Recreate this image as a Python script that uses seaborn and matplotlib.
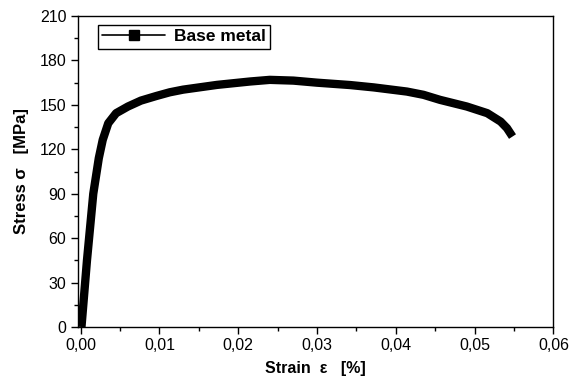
import matplotlib
matplotlib.use("Agg")
import matplotlib.pyplot as plt
from matplotlib.lines import Line2D
from matplotlib.ticker import MultipleLocator, FuncFormatter
import seaborn as sns
import pandas as pd

strain = [0.0001, 0.0008, 0.0016, 0.0023, 0.0028, 0.0035, 0.0045, 0.006,
          0.00765, 0.0096, 0.0113, 0.013, 0.0173, 0.0215, 0.024, 0.027, 0.030,
          0.0342, 0.0372, 0.0414, 0.0435, 0.0456, 0.049, 0.0516, 0.0533,
          0.0541, 0.0548]
stress = [0, 45, 90, 114, 126.4, 137.6, 144.4, 148.9, 152.9, 156, 158.5, 160.3,
          163.5, 165.8, 166.9, 166.4, 165, 163.4, 161.8, 159, 156.8, 153.4,
          148.9, 144.4, 138.7, 134.3, 128.6]
series_name = "Base metal"
x_ticks = [0, 0.01, 0.02, 0.03, 0.04, 0.05, 0.06]
y_ticks = [0, 30, 60, 90, 120, 150, 180, 210]

df = pd.DataFrame({"strain": strain, "stress": stress})

sns.set_style("ticks")
plt.rcParams["font.family"] = ["Liberation Sans", "DejaVu Sans"]
plt.rcParams["text.color"] = "black"
plt.rcParams["axes.labelcolor"] = "black"
plt.rcParams["xtick.color"] = "black"
plt.rcParams["ytick.color"] = "black"

fig = plt.figure(figsize=(5.7, 3.82), dpi=100)
ax = fig.add_axes([0.136, 0.144, 0.835, 0.814])

sns.lineplot(data=df, x="strain", y="stress", ax=ax, color="black",
             linewidth=6, solid_joinstyle="round", solid_capstyle="butt",
             legend=False, sort=False)

ax.set_xlim(-0.0004, 0.06)
ax.set_ylim(0, 210)
ax.set_xticks(x_ticks)
ax.set_yticks(y_ticks)
ax.xaxis.set_minor_locator(MultipleLocator(0.005))
ax.yaxis.set_minor_locator(MultipleLocator(15))
ax.xaxis.set_major_formatter(FuncFormatter(lambda v, p: f"{v:.2f}".replace(".", ",")))
ax.tick_params(which="major", direction="out", length=5, width=1, labelsize=11.5,
               colors="black", labelcolor="black", pad=3)
ax.tick_params(which="minor", direction="out", length=3, width=1, colors="black")
for s in ax.spines.values():
    s.set_visible(True)
    s.set_linewidth(1)
    s.set_color("black")

ax.set_xlabel("Strain  \u03b5   [%]", fontsize=11.5, fontweight="bold", labelpad=6,
              color="black")
ax.set_ylabel("Stress \u03c3   [MPa]", fontsize=12, fontweight="bold", labelpad=8,
              color="black")

handle = Line2D([], [], color="black", linewidth=1.2, marker="s", markersize=6.5)
leg = ax.legend([handle], [series_name], loc="upper left",
                bbox_to_anchor=(0.043, 0.972), frameon=True, fancybox=False,
                edgecolor="black", framealpha=1, borderpad=0.25,
                handlelength=3.6, handletextpad=0.5, borderaxespad=0,
                prop={"weight": "bold", "size": 12.5})
leg.get_frame().set_linewidth(1)
for t in leg.get_texts():
    t.set_color("black")

fig.savefig("out.png", dpi=100)
